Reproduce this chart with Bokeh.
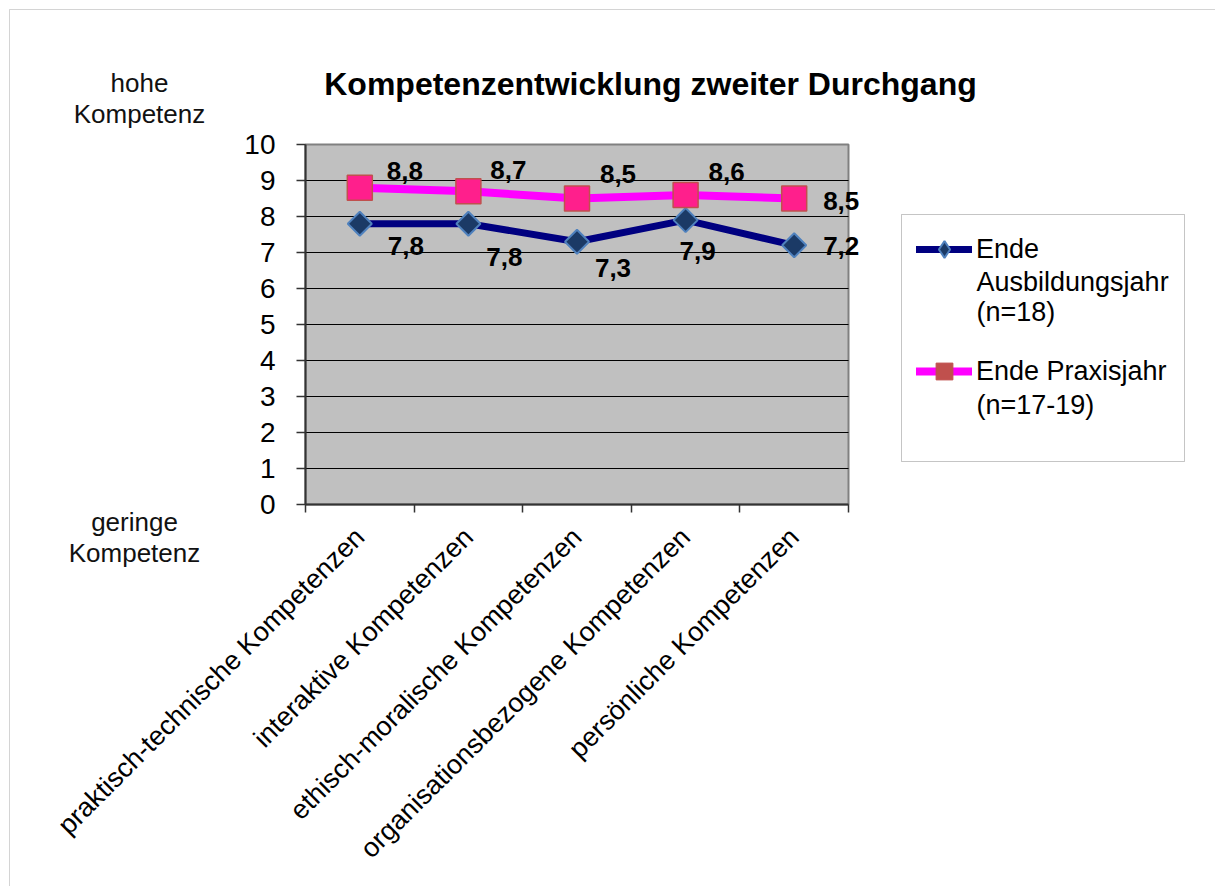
import math
from bokeh.plotting import figure
from bokeh.models import (ColumnDataSource, FixedTicker, Legend, LegendItem, Label,
                          BoxAnnotation, Range1d)
from bokeh.core.properties import value
from bokeh.embed import file_html
from bokeh.resources import INLINE

# ---------------- data ----------------
categories = [
    "praktisch-technische Kompetenzen",
    "interaktive Kompetenzen",
    "ethisch-moralische Kompetenzen",
    "organisationsbezogene Kompetenzen",
    "persönliche Kompetenzen",
]
ausbildung = [7.8, 7.8, 7.3, 7.9, 7.2]
praxis = [8.8, 8.7, 8.5, 8.6, 8.5]
y_ticks = [0, 1, 2, 3, 4, 5, 6, 7, 8, 9, 10]
# legend text: first line next to the marker, rest below it
legend_head = ["Ende", "Ende Praxisjahr"]
legend_rest = ["Ausbildungsjahr\n(n=18)", "(n=17-19)"]
title_text = "Kompetenzentwicklung zweiter Durchgang"
top_note = "hohe\nKompetenz"
bottom_note = "geringe\nKompetenz"

# ---------------- layout (pixels) ----------------
W, H = 1215, 886
PX0, PX1 = 305, 848        # plot area left / right
PY_TOP, PY_BOT = 144, 504  # plot area top / bottom
FONT = "Liberation Sans"
LEG_BOX = (901, 1184, 214, 461)      # left, right, top, bottom
LEG_GLYPH_X = 916
LEG_TEXT_X = 976
LEG_HEAD_Y = [249, 371]              # centre of first line of each entry
LEG_REST_Y = [296, 404]              # centre of the remaining lines
GLYPH_H = 42

# value-label placement offsets (pixels)
aus_dx = [46, 36, 36, 12, 47]
aus_dy = [22, 33, 26, 31, 1]
pra_dx = [45, 40, 41, 41, 47]
pra_dy = [-17, -21, -25, -23, 2]

n = len(categories)
ymax = y_ticks[-1]
xs = [i + 0.5 for i in range(n)]
bounds = list(range(n + 1))

ux = n / (PX1 - PX0)
uy = ymax / (PY_BOT - PY_TOP)
x_range = Range1d(0 - PX0 * ux, n + (W - PX1) * ux)
y_range = Range1d(0 - (H - PY_BOT) * uy, ymax + PY_TOP * uy)


def fmt(v):
    return f"{v:.1f}".replace(".", ",")


src1 = ColumnDataSource(dict(x=xs, y=ausbildung, lab=[fmt(v) for v in ausbildung],
                             dx=aus_dx, dy=aus_dy))
src2 = ColumnDataSource(dict(x=xs, y=praxis, lab=[fmt(v) for v in praxis],
                             dx=pra_dx, dy=pra_dy))

p = figure(width=W, height=H, x_range=x_range, y_range=y_range,
           output_backend="svg", toolbar_location=None,
           min_border_left=0, min_border_right=0, min_border_top=0, min_border_bottom=0,
           background_fill_color="white", border_fill_color="white")
p.outline_line_color = None
p.xgrid.visible = False
p.ygrid.visible = False

# plot area + grid
p.quad(left=[0], right=[n], bottom=[0], top=[ymax], fill_color="#C0C0C0",
       line_color="#808080", line_width=2)
grid_src = ColumnDataSource(dict(y=y_ticks[1:-1], x0=[0] * (len(y_ticks) - 2),
                                 x1=[n] * (len(y_ticks) - 2)))
p.segment(x0="x0", x1="x1", y0="y", y1="y", source=grid_src,
          line_color="black", line_width=1)

# x axis
xa = p.xaxis[0]
xa.fixed_location = 0
xa.bounds = (0, n)
xa.ticker = FixedTicker(ticks=xs, minor_ticks=bounds)
xa.major_label_overrides = {x: c for x, c in zip(xs, categories)}
xa.major_label_orientation = math.pi / 4
xa.major_tick_out = 0
xa.major_tick_in = 0
xa.major_tick_line_color = None
xa.minor_tick_out = 8
xa.minor_tick_in = 0
xa.minor_tick_line_color = "#333333"
xa.minor_tick_line_width = 1.5
xa.axis_line_color = "#333333"
xa.axis_line_width = 2
xa.major_label_text_font = FONT
xa.major_label_text_font_size = "27px"
xa.major_label_text_color = "black"
xa.major_label_standoff = 20

# y axis
ya = p.yaxis[0]
ya.fixed_location = 0
ya.bounds = (0, ymax)
ya.ticker = FixedTicker(ticks=y_ticks)
ya.major_tick_out = 9
ya.major_tick_in = 0
ya.major_tick_line_color = "#333333"
ya.major_tick_line_width = 1.5
ya.minor_tick_line_color = None
ya.axis_line_color = "#333333"
ya.axis_line_width = 2
ya.major_label_text_font = FONT
ya.major_label_text_font_size = "28px"
ya.major_label_text_color = "black"
ya.major_label_standoff = 21

# series
r1 = p.line("x", "y", source=src1, line_color="#000080", line_width=7, line_cap="round")
m1 = p.scatter("x", "y", source=src1, marker="square", angle=math.pi / 4, size=17,
               fill_color="#1B3A66", line_color="#4F81BD", line_width=2)
r2 = p.line("x", "y", source=src2, line_color="#FF00FF", line_width=8, line_cap="round")
m2 = p.scatter("x", "y", source=src2, marker="square", size=25,
               fill_color="#FF1F8C", line_color="#C0504D", line_width=1.5)

nan = float("nan")
m1_leg = p.scatter([nan], [nan], marker="diamond", fill_color="#1B3A66",
                   line_color="#4F81BD", line_width=2)
m2_leg = p.scatter([nan], [nan], marker="square", fill_color="#C0504D",
                   line_color="#C0504D")

for src in (src1, src2):
    p.text("x", "y", text="lab", source=src, x_offset="dx", y_offset="dy",
           text_align="center", text_baseline="middle",
           text_font=value(FONT), text_font_style="bold",
           text_font_size="26px", text_color="black")

# legend frame
lb_l, lb_r, lb_t, lb_b = LEG_BOX
p.add_layout(BoxAnnotation(left=lb_l, right=lb_r, top=H - lb_t, bottom=H - lb_b,
                           left_units="screen", right_units="screen",
                           top_units="screen", bottom_units="screen",
                           fill_color="white", fill_alpha=1,
                           line_color="#404040", line_width=1))

leg_renderers = [[r1, m1_leg], [r2, m2_leg]]
for i in range(2):
    leg = Legend(items=[LegendItem(label=legend_head[i], renderers=leg_renderers[i])],
                 location=(LEG_GLYPH_X, H - (LEG_HEAD_Y[i] + GLYPH_H / 2)),
                 label_text_font=FONT, label_text_font_size="27px",
                 label_text_color="black",
                 border_line_color=None, background_fill_alpha=0,
                 padding=0, spacing=0, margin=0,
                 glyph_width=56, glyph_height=GLYPH_H,
                 label_standoff=LEG_TEXT_X - LEG_GLYPH_X - 56)
    p.add_layout(leg)
    p.add_layout(Label(x=LEG_TEXT_X, y=H - LEG_REST_Y[i], x_units="screen",
                       y_units="screen", text=legend_rest[i],
                       text_align="left", text_baseline="middle", text_line_height=1.0,
                       text_font=FONT, text_font_size="27px", text_color="black"))

p.add_layout(Label(x=650, y=H - 83, x_units="screen", y_units="screen", text=title_text,
                   text_align="center", text_baseline="alphabetic",
                   text_font=FONT, text_font_size="32px", text_font_style="bold",
                   text_color="black"))
p.add_layout(Label(x=139, y=H - 98, x_units="screen", y_units="screen", text=top_note,
                   text_align="center", text_baseline="middle", text_line_height=1.05,
                   text_font=FONT, text_font_size="26px", text_color="#111111"))
p.add_layout(Label(x=134, y=H - 537, x_units="screen", y_units="screen", text=bottom_note,
                   text_align="center", text_baseline="middle", text_line_height=1.05,
                   text_font=FONT, text_font_size="26px", text_color="#111111"))

p.add_layout(BoxAnnotation(left=9, right=W + 50, top=H - 9, bottom=-50,
                           left_units="screen", right_units="screen",
                           top_units="screen", bottom_units="screen",
                           fill_alpha=0, line_color="#707070", line_width=1))

open("out.html", "w").write(file_html(p, INLINE))
